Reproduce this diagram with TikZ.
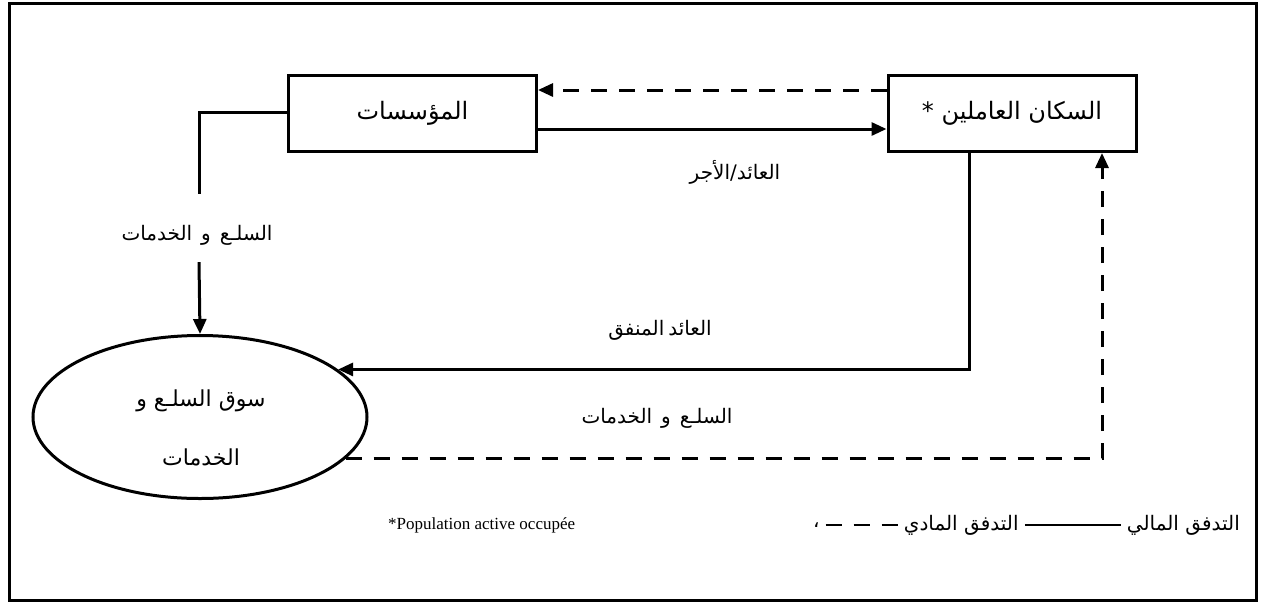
\documentclass[tikz,border=0pt]{standalone}
\usepackage{fontspec}
\setmainfont{Liberation Serif}
\newfontfamily\arabicfont[Script=Arabic]{DejaVu Sans}
\TeXXeTstate=1
\usetikzlibrary{arrows.meta,shapes.geometric,positioning}
\newcommand{\artext}[1]{{\arabicfont\beginR #1\endR}}

\begin{document}
\begin{tikzpicture}[x=1pt,y=-1pt,
    box/.style={rectangle, draw, line width=3pt, minimum width=248pt, minimum height=76pt, inner sep=0pt, font=\fontsize{24}{28}\selectfont},
    market/.style={ellipse, draw, line width=3pt, minimum width=334pt, minimum height=163pt, inner sep=0pt},
    flow/.style={line width=3pt, -{Triangle[length=15pt,width=13pt]}},
    dashflow/.style={flow, dash pattern=on 16pt off 12pt},
    lbl/.style={inner sep=0pt, font=\fontsize{20}{24}\selectfont},
    leg/.style={inner sep=0pt, font=\fontsize{20}{24}\selectfont}]
    \useasboundingbox (0,0) rectangle (1261,606);
    \draw[line width=3pt] (9.5,3.5) rectangle (1256.5,600.5);

    % Boxes and market
    \node[box] (firms) at (412.5,113.5) {\artext{المؤسسات}};
    \node[box] (workers) at (1012,113.5) {\artext{السكان العاملين *}};
    \node[market] (market) at (200,417) {};
    \node[lbl, align=center, font=\fontsize{22}{59}\selectfont] (marketlbl) at (201,427.5)
        {\artext{سوق السلـع و}\\\artext{الخدمات}};

    % Labels
    \node[lbl, minimum height=68pt] (goodsA) at (197,235) {\artext{السلـع\hspace{9pt}و\hspace{9pt}الخدمات}};
    \node[lbl] (wage) at (735,172) {\artext{العائد/الأجر}};
    \node[lbl] (spent) at (660,330) {\artext{العائد\hspace{4pt}المنفق}};
    \node[lbl] (goodsB) at (657,418) {\artext{السلـع\hspace{9pt}و\hspace{9pt}الخدمات}};

    % Flows
    \draw[dashflow] ([yshift=23.5pt]workers.west) -- ([yshift=23.5pt]firms.east);
    \draw[flow] ([yshift=-15.5pt]firms.east) -- ([yshift=-15.5pt]workers.west);
    \draw[line width=3pt] ([yshift=1.5pt]firms.west) -| ([xshift=2pt, yshift=7pt]goodsA.north);
    \draw[flow] ([xshift=2pt, yshift=7pt]goodsA.south) -- (market.north);
    \draw[flow] ([xshift=-43pt]workers.south) |- (market.19);
    \draw[dashflow] (market.-16) -| ([xshift=90pt]workers.south);

    % Note and legend
    \node[anchor=west, inner sep=0pt, font=\fontsize{17}{21}\selectfont] (note) at (388,525) {*Population active occupée};
    \node[leg, anchor=east] (legmali) at (1240,525) {\artext{التدفق المالي}};
    \node[leg, left=108pt of legmali] (legmadi) {\artext{التدفق المادي}};
    \node[leg, left=84pt of legmadi] (legcomma) {\artext{،}};
    \draw[line width=2pt, shorten <=6pt, shorten >=6pt] (legmadi.east) -- (legmali.west);
    \draw[line width=2.5pt, dash pattern=on 16pt off 12pt, shorten <=6pt, shorten >=6pt] (legcomma.east) -- (legmadi.west);
\end{tikzpicture}
\end{document}
